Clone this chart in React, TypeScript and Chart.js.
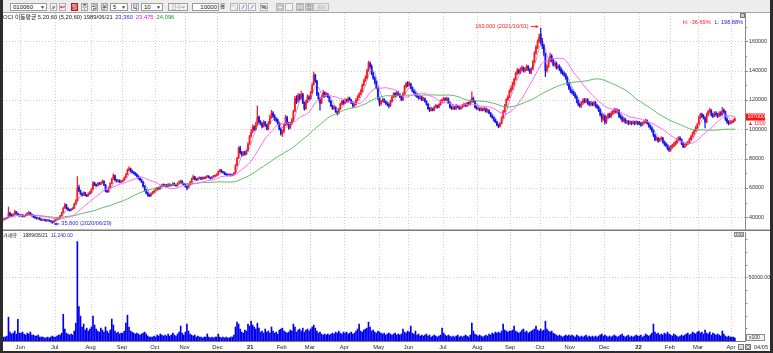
import React, { useEffect, useRef } from "react";
import { Chart, registerables } from "chart.js";

Chart.register(...registerables);

const FONT = '"Liberation Sans", "Noto Sans CJK KR", Arial, sans-serif';

// ---------- calendar (trading days per month) ----------
const monthLabels = ["May", "Jun", "Jul", "Aug", "Sep", "Oct", "Nov", "Dec", "21", "Feb", "Mar", "Apr", "May", "Jun", "Jul", "Aug", "Sep", "Oct", "Nov", "Dec", "22", "Feb", "Mar", "Apr"];
const monthDays = [11, 22, 23, 20, 21, 19, 21, 21, 20, 18, 22, 22, 19, 22, 22, 21, 19, 19, 22, 22, 20, 18, 21, 3];

// ---------- daily prices (thousand KRW) ----------
const opens = [
  38.2, 38.8, 39.2, 39.8, 42.8, 41.8, 41.0, 42.2, 43.8, 42.6, 41.6,
  41.0, 41.6, 40.4, 41.0, 42.2, 42.4, 43.2, 42.0, 41.0, 40.2, 39.6, 39.0, 39.6, 38.6, 38.0, 38.6, 38.0, 37.6, 38.0, 37.6, 37.2, 36.6,
  37.6, 38.6, 39.0, 39.6, 41.2, 43.2, 46.4, 48.6, 46.2, 45.0, 44.6, 45.6, 46.2, 49.2, 51.5, 60.5, 58.2, 56.2, 55.0, 56.8, 55.2, 54.6, 56.0,
  57.2, 59.4, 63.4, 62.0, 61.6, 63.2, 62.4, 63.6, 64.6, 62.0, 58.2, 57.6, 60.2, 63.2, 66.2, 68.4, 65.6, 64.4, 65.2, 64.0,
  64.6, 65.2, 67.2, 69.2, 72.2, 73.2, 71.6, 70.6, 70.0, 69.2, 68.0, 66.6, 65.4, 64.0, 61.2, 58.6, 56.6, 55.2, 54.6, 56.2, 57.2,
  58.2, 59.2, 60.2, 59.6, 61.2, 62.2, 61.6, 62.0, 61.2, 62.6, 61.6, 62.2, 63.0, 62.0, 61.6, 63.2, 64.0, 64.6, 63.0,
  62.0, 61.0, 60.2, 62.2, 64.2, 66.2, 67.6, 66.0, 65.6, 66.6, 67.0, 66.2, 67.0, 66.6, 67.6, 68.0, 67.0, 66.6, 67.6, 68.0, 68.6,
  69.2, 71.2, 72.2, 71.0, 70.6, 69.6, 69.0, 68.6, 69.2, 68.6, 69.2, 70.4, 75.6, 80.6, 87.4, 84.2, 82.6, 84.4, 83.2, 85.4, 90.6,
  95.5, 98.5, 101.5, 100, 103.5, 108.5, 105, 104, 102, 105, 103, 100, 104, 108, 111, 109, 107, 106, 104, 100,
  97, 98.5, 103, 108, 104, 101, 104, 106, 112.5, 121, 119, 123, 121, 124, 118, 114, 119, 122,
  121, 125, 130.5, 137, 133, 124.5, 121, 118, 122, 125, 123, 124, 122, 119, 116, 114, 115, 112, 111, 114, 117, 119,
  118, 120, 119, 121, 120, 118, 116, 117, 120, 122, 124, 126, 130, 133, 135, 140, 145, 143, 138, 135, 132, 128,
  121, 117.5, 119, 120.5, 119, 118, 117, 116, 119, 122, 124.5, 123, 125, 124, 122, 120, 124, 129, 131.5,
  130, 131, 128, 126, 125, 123, 122, 121, 122, 120, 121, 119, 117, 114, 113, 114, 113, 115, 116, 115, 117, 119,
  120, 121, 120, 121, 118, 115, 114, 115, 114, 116, 115, 114, 115, 116, 117, 116, 118, 117, 119, 121, 119, 115,
  114, 114, 113, 114, 113, 114, 112, 113, 111, 109, 108, 106, 105, 103, 102, 104, 108, 112, 116, 120, 122,
  126, 128, 131, 134, 138, 140, 139, 141, 142, 140, 141, 143, 141, 139, 141, 146, 152, 156, 160,
  165, 160, 157, 151, 140, 143, 147, 150, 147, 144, 145, 142, 143, 141, 139, 138, 137, 135, 131,
  128, 126, 125, 124, 122, 119, 117, 116, 118, 120, 119, 120, 118, 117, 118, 117, 118, 116, 115, 113, 110, 107,
  109, 105, 108, 110, 109, 111, 112, 113, 112, 113, 109, 108, 106, 107, 105, 105, 104, 105, 104, 105, 104, 105,
  104.5, 104, 103, 104, 105, 106, 104, 102, 101, 99, 96, 93, 94, 92, 93, 94, 91, 90, 89, 87,
  86, 88, 89, 90, 91, 93, 94, 93, 90, 88, 89, 90, 91, 93, 95, 97, 99, 101,
  104, 108, 110, 109, 108, 105, 110, 112, 113, 110, 109, 111, 110, 109, 111, 110, 113, 112, 107, 105, 104,
  104.5, 105, 106,
];
const highs = [
  39.0, 39.4, 40.0, 47.0, 43.5, 42.2, 42.5, 45.0, 44.0, 42.8, 41.8,
  42.0, 41.8, 41.4, 42.4, 43.0, 44.0, 43.4, 42.2, 41.2, 40.4, 39.8, 39.8, 39.8, 38.8, 38.8, 38.8, 38.2, 38.4, 38.2, 37.8, 37.4, 37.8,
  38.8, 39.4, 40.0, 41.4, 43.6, 47.0, 49.5, 48.8, 46.6, 45.4, 46.0, 46.6, 49.6, 52.0, 67.7, 62.0, 58.6, 56.6, 57.4, 57.0, 55.6, 56.6, 57.8,
  59.6, 64.4, 64.0, 62.6, 63.6, 63.8, 64.0, 65.4, 65.0, 62.4, 58.8, 60.6, 63.6, 66.8, 69.6, 68.8, 66.0, 65.6, 65.6, 65.0,
  65.6, 67.6, 69.8, 73.0, 74.5, 73.6, 72.2, 71.2, 70.6, 69.6, 68.4, 67.0, 65.8, 64.4, 61.6, 59.0, 57.2, 55.8, 56.6, 57.6, 58.6,
  59.6, 60.6, 60.6, 61.6, 62.6, 62.8, 62.6, 62.4, 63.0, 62.8, 62.4, 63.6, 63.4, 62.4, 63.6, 64.8, 65.4, 65.0, 63.4,
  62.4, 61.4, 62.6, 64.6, 66.8, 68.8, 68.0, 66.4, 67.0, 67.6, 67.4, 67.6, 67.4, 68.0, 68.6, 68.4, 67.4, 68.0, 68.6, 69.0, 69.6,
  71.6, 72.8, 72.6, 71.4, 71.0, 70.0, 69.4, 69.6, 69.6, 69.4, 70.6, 76.0, 81.0, 88.0, 88.6, 85.0, 85.0, 85.2, 86.0, 91.0, 96.0,
  100, 103, 102.5, 105, 116, 109, 106, 104.5, 106, 105.5, 103.5, 105.5, 109.5, 113, 112, 110, 108, 107, 104.5, 101,
  99.5, 104, 109.5, 109, 105, 105, 107.5, 113, 122.5, 123, 124.5, 124, 126, 124.5, 118.5, 120, 123.5, 123,
  126, 131.5, 139, 137.5, 133.5, 125, 121.5, 123, 126.5, 125.5, 125, 124.5, 122.5, 119.5, 116.5, 116, 115.5, 112.5, 114.5, 118, 120, 120,
  121, 120.5, 122, 122, 120.5, 118.5, 118, 121, 123, 125, 127, 131, 134, 136.5, 141, 146.5, 146, 144, 139, 136, 133, 129,
  122, 120, 121, 121, 119.5, 118.5, 117.5, 120, 123, 125, 125, 126, 126, 124.5, 122.5, 125, 130, 132, 132.5,
  132.5, 131.5, 129, 127, 125.5, 124, 122.5, 123, 122.5, 122, 121.5, 119.5, 117.5, 115, 115, 114.5, 116, 117, 116.5, 117.5, 120, 121,
  122, 121.5, 122, 121.5, 118.5, 116, 116, 115.5, 117, 116.5, 115.5, 116, 117, 118, 117.5, 118.5, 118.5, 120, 125.5, 122, 119.5, 116,
  115, 114.5, 115, 114.5, 115, 114.5, 114, 113.5, 111.5, 110, 108.5, 107, 105.5, 103.5, 104.5, 108.5, 113, 117, 121, 123, 127,
  129.5, 132, 135, 139, 141.5, 141, 142, 143.5, 142.5, 142, 144, 143.5, 141.5, 142, 147, 153, 157, 161, 165,
  169, 162, 158, 152, 144, 148, 152, 151, 148, 146, 146, 144, 144, 142, 140, 139, 138, 136, 132,
  129, 127, 126, 125, 123, 120, 118, 119, 121, 121, 121, 121, 119, 119, 118.5, 119, 119, 117, 116, 114, 111, 110,
  110, 109, 111, 111, 112, 113, 114.5, 114, 114, 113.5, 110, 109, 108, 107.5, 106, 106, 106, 105.5, 106, 105.5, 106, 105.5,
  105.5, 105, 105, 106, 107, 106.5, 104.5, 103, 101.5, 99.5, 96.5, 95, 94.5, 94, 95, 94.5, 92, 91, 89.5, 88,
  89, 90, 91, 92, 94, 95, 95, 93.5, 90.5, 90, 91, 92, 94, 96, 98, 100, 102, 104,
  109, 111, 111, 110, 108.5, 111, 113, 114.5, 113.5, 111, 112, 112, 111, 112, 112, 115, 114, 112.5, 108, 106, 106,
  106, 107, 108,
];
const lows = [
  38.0, 38.5, 39.0, 39.6, 41.0, 40.6, 40.8, 41.8, 42.2, 41.2, 40.6,
  40.8, 40.2, 40.2, 40.8, 42.0, 42.2, 41.8, 40.8, 39.8, 39.2, 38.8, 38.8, 38.2, 37.8, 37.8, 37.8, 37.2, 37.4, 37.2, 36.6, 35.8, 36.4,
  37.4, 38.4, 38.8, 39.4, 41.0, 43.0, 46.0, 45.6, 44.6, 44.2, 44.4, 45.2, 46.0, 48.8, 51.0, 57.4, 55.6, 54.4, 54.8, 54.6, 54.0, 54.4, 55.6,
  56.8, 59.0, 61.6, 61.0, 61.2, 62.0, 62.0, 63.2, 61.6, 57.4, 56.8, 57.2, 60.0, 62.8, 65.8, 65.0, 64.0, 64.0, 63.6, 63.6,
  64.2, 65.0, 66.8, 69.0, 71.8, 71.0, 70.0, 69.6, 68.6, 67.6, 66.0, 65.0, 63.6, 60.6, 58.0, 56.0, 54.4, 54.0, 54.2, 55.8, 56.8,
  57.8, 58.8, 59.0, 59.2, 60.8, 61.0, 61.2, 60.6, 61.0, 61.2, 61.2, 61.8, 61.6, 61.0, 61.2, 62.8, 63.6, 62.6, 61.6,
  60.6, 58.6, 59.8, 61.8, 63.8, 65.8, 65.6, 65.0, 65.2, 66.2, 65.6, 65.8, 66.2, 66.2, 67.2, 66.6, 66.0, 66.2, 67.2, 67.6, 68.2,
  68.8, 70.8, 70.6, 70.0, 69.0, 68.6, 68.0, 68.2, 68.0, 68.2, 68.8, 70.0, 75.0, 80.0, 83.2, 81.6, 82.0, 82.4, 82.6, 85.0, 89.6,
  94.5, 97.5, 99, 99.5, 102.5, 104, 103, 101, 101.5, 102, 99.5, 99.5, 103.5, 107.5, 108, 106, 105, 103, 99.5, 96,
  95, 97.5, 102.5, 103, 100, 100.5, 103, 105.5, 112, 117.5, 118.5, 120, 120.5, 117.5, 113, 113.5, 118, 120,
  120.5, 124.5, 130, 132, 123, 120, 113, 117.5, 121.5, 122, 122.5, 121.5, 118.5, 115.5, 113.5, 113.5, 111.5, 109.8, 110.5, 113.5, 116.5, 117,
  117.5, 118.5, 118.5, 119.5, 117.5, 115, 115.5, 116.5, 119.5, 121.5, 123.5, 125.5, 129.5, 132.5, 134.5, 139.5, 141.5, 137, 134, 131, 127.5, 120,
  116, 116.5, 118.5, 118, 117, 116, 114.5, 115.5, 118.5, 121.5, 122, 122.5, 123, 121.5, 119.5, 119.5, 123.5, 128, 129,
  129.5, 127.5, 125.5, 124.5, 122.5, 121.5, 120.5, 120.5, 119.5, 119.5, 118.5, 116.5, 113.5, 112, 112.5, 112.5, 112.5, 114.5, 114.5, 114.5, 116.5, 118.5,
  119.5, 119.5, 119.5, 117.5, 114.5, 113.5, 113.5, 113.5, 113.5, 114.5, 113.5, 113.5, 114.5, 115.5, 115.5, 115.5, 116.5, 116.5, 118.5, 118.5, 114.5, 113.5,
  113, 112.5, 112.5, 112.5, 112.5, 111.5, 111.5, 110.5, 108.5, 107.5, 105.5, 104.5, 102.5, 101, 101.5, 103.5, 107.5, 111.5, 115.5, 119.5, 121.5,
  125, 127, 130, 133.5, 137, 138, 138, 140, 139, 139, 140, 140, 138, 138, 140.5, 145.5, 151, 155, 159,
  158, 155, 150, 136, 139, 142, 146, 146, 143, 143, 141, 141, 140, 138, 137, 136, 134, 130, 127,
  125, 124, 123, 121, 118, 116, 115, 115, 117, 118, 118, 117, 116, 116, 116, 116, 115, 114, 112, 109, 105, 106,
  103.5, 104, 107, 108, 108, 110, 111, 111, 111, 108, 107, 105, 105, 104, 104, 103, 103.5, 103, 103.5, 103, 103.5, 103,
  103, 102, 102.5, 103.5, 104.5, 103.5, 101.5, 100, 98, 95, 92, 92.5, 91, 91.5, 92.5, 90.5, 89, 88, 86, 84.7,
  85, 87, 88, 89, 90, 92, 92.5, 89.5, 87.5, 87.5, 88.5, 89.5, 90.5, 92.5, 94.5, 96.5, 98.5, 100.5,
  103, 107, 108, 107, 101, 104.5, 109.5, 111, 109, 108, 108.5, 109, 108, 108.5, 109, 109.5, 111, 106, 104, 103, 103.5,
  104, 104.5, 105.5,
];
const closes = [
  38.6, 39.0, 39.5, 42.5, 41.5, 41.0, 42.0, 43.5, 42.5, 41.5, 41.0,
  41.5, 40.5, 41.0, 42.0, 42.5, 43.0, 42.0, 41.0, 40.0, 39.5, 39.0, 39.5, 38.5, 38.0, 38.5, 38.0, 37.5, 38.0, 37.5, 37.0, 36.5, 37.5,
  38.5, 39.0, 39.5, 41.0, 43.0, 46.0, 48.5, 46.0, 45.0, 44.5, 45.5, 46.0, 49.0, 51.0, 60.0, 58.0, 56.0, 55.0, 56.5, 55.0, 54.5, 56.0, 57.0,
  59.0, 63.5, 62.0, 61.5, 63.0, 62.5, 63.5, 64.5, 62.0, 58.0, 57.5, 60.0, 63.0, 66.0, 68.5, 65.5, 64.5, 65.0, 64.0, 64.5,
  65.0, 67.0, 69.0, 72.0, 73.0, 71.5, 70.5, 70.0, 69.0, 68.0, 66.5, 65.5, 64.0, 61.0, 58.5, 56.5, 55.0, 54.5, 56.0, 57.0, 58.0,
  59.0, 60.0, 59.5, 61.0, 62.0, 61.5, 62.0, 61.0, 62.5, 61.5, 62.0, 63.0, 62.0, 61.5, 63.0, 64.0, 64.5, 63.0, 62.0,
  61.0, 60.0, 62.0, 64.0, 66.0, 67.5, 66.0, 65.5, 66.5, 67.0, 66.0, 67.0, 66.5, 67.5, 68.0, 67.0, 66.5, 67.5, 68.0, 68.5, 69.0,
  71.0, 72.0, 71.0, 70.5, 69.5, 69.0, 68.5, 69.0, 68.5, 69.0, 70.0, 75.0, 80.0, 87.0, 84.0, 82.5, 84.0, 83.0, 85.0, 90.0, 95.0,
  98, 101, 100, 103, 108, 105, 104, 102, 105, 103, 100, 104, 108, 111, 109, 107, 106, 104, 100, 97,
  98, 103, 108, 104, 101, 104, 106, 112, 121, 119, 123, 121, 124, 118, 114, 119, 122, 121,
  125, 130, 137, 133, 124, 121, 118, 122, 125, 123, 124, 122, 119, 116, 114, 115, 112, 111, 114, 117, 119, 118,
  120, 119, 121, 120, 118, 116, 117, 120, 122, 124, 126, 130, 133, 135, 140, 145, 143, 138, 135, 132, 128, 122,
  118, 119, 120, 119, 118, 117, 116, 119, 122, 124, 123, 125, 124, 122, 120, 124, 129, 131, 130,
  131, 128, 126, 125, 123, 122, 121, 122, 120, 121, 119, 117, 114, 113, 114, 113, 115, 116, 115, 117, 119, 120,
  121, 120, 121, 118, 115, 114, 115, 114, 116, 115, 114, 115, 116, 117, 116, 118, 117, 119, 121, 119, 115, 114,
  114, 113, 114, 113, 114, 112, 113, 111, 109, 108, 106, 105, 103, 102, 104, 108, 112, 116, 120, 122, 126,
  128, 131, 134, 138, 140, 139, 141, 142, 140, 141, 143, 141, 139, 141, 146, 152, 156, 160, 163,
  160, 157, 152, 140, 143, 147, 150, 147, 144, 145, 142, 143, 141, 139, 138, 137, 135, 131, 128,
  126, 125, 124, 122, 119, 117, 116, 118, 120, 119, 120, 118, 117, 118, 117, 118, 116, 115, 113, 110, 107, 109,
  105, 108, 110, 109, 111, 112, 113, 112, 113, 109, 108, 106, 107, 105, 105, 104, 105, 104, 105, 104, 105, 104,
  104, 103, 104, 105, 106, 104, 102, 101, 99, 96, 93, 94, 92, 93, 94, 91, 90, 89, 87, 86,
  88, 89, 90, 91, 93, 94, 93, 90, 88, 89, 90, 91, 93, 95, 97, 99, 101, 103,
  108, 110, 109, 108, 105, 110, 112, 113, 110, 109, 111, 110, 109, 111, 110, 113, 112, 107, 105, 104, 105,
  105, 106, 107,
];

// ---------- daily volume (x100 shares) ----------
const volumes = [
  3100, 3200, 3900, 18700, 7000, 5500, 6200, 7800, 5500, 17000, 6200,
  6200, 7000, 5500, 4700, 6200, 5500, 7000, 4700, 4700, 3900, 3900, 4700, 3100, 3100, 3100, 2400, 2400, 3100, 2400, 3100, 3900, 3100,
  3100, 3900, 4700, 4700, 6200, 21000, 9400, 6200, 5500, 4700, 5500, 4700, 7800, 14000, 78000, 27000, 19500, 11000, 13300, 8600, 10100, 7800, 9400,
  11000, 19500, 12500, 9400, 7800, 7000, 10100, 8600, 7000, 11000, 7800, 6200, 8600, 17200, 12500, 7800, 6200, 7000, 5500, 6200,
  6200, 7800, 14000, 20300, 11000, 7800, 7000, 6200, 5500, 6200, 5500, 4700, 5500, 6200, 7000, 5500, 3900, 3100, 3100, 3100, 3900,
  3100, 4700, 3900, 5500, 4700, 3900, 4700, 3900, 5500, 3900, 4700, 6200, 4700, 3900, 5500, 7000, 11700, 6200, 4700,
  7000, 13300, 7800, 5500, 4700, 3900, 4700, 3100, 3900, 3100, 3100, 2400, 3100, 3100, 5500, 3100, 2400, 3100, 2400, 3100, 3100,
  5500, 3100, 2400, 3100, 2400, 3100, 2400, 2400, 3100, 3100, 4700, 11000, 14800, 13300, 9400, 7000, 6200, 8600, 7800, 13300, 11700,
  15600, 12500, 11000, 9400, 14000, 10100, 7000, 7800, 6200, 9400, 7000, 7800, 6200, 11000, 7800, 6200, 7000, 5500, 8600, 9400,
  10100, 7800, 7000, 6200, 7000, 8600, 7800, 13300, 11000, 7000, 8600, 9400, 7800, 10100, 7000, 8600, 9400, 7800,
  9400, 11000, 12500, 10100, 7800, 6200, 7000, 5500, 4700, 5500, 4700, 5500, 4700, 5500, 6200, 5500, 7000, 6200, 7800, 6200, 5500, 7000,
  6200, 7000, 5500, 6200, 7000, 5500, 6200, 7800, 9400, 13300, 7800, 7000, 8600, 9400, 10100, 14800, 11000, 7800, 8600, 7000, 6200, 7800,
  7000, 6200, 5500, 6200, 4700, 5500, 6200, 5500, 4700, 5500, 6200, 4700, 5500, 4700, 5500, 9400, 7000, 6200, 7800,
  7000, 11700, 6200, 5500, 7800, 4700, 5500, 3900, 4700, 3900, 4700, 5500, 3900, 4700, 3100, 3900, 4700, 3900, 3100, 3900, 4700, 10100,
  6200, 4700, 3900, 4700, 3900, 3100, 3900, 3100, 3900, 4700, 3100, 3900, 3100, 3900, 4700, 3900, 3100, 4700, 14000, 7800, 5500, 4700,
  3900, 4700, 3900, 3100, 3900, 4700, 3900, 5500, 4700, 6200, 5500, 7000, 6200, 7000, 6200, 7800, 13300, 8600, 7800, 7000, 7800,
  7800, 8600, 11700, 7800, 7000, 6200, 7000, 8600, 9400, 7000, 7800, 6200, 7000, 7800, 8600, 9400, 11700, 8600, 7800,
  9400, 7800, 8600, 15600, 9400, 7800, 7000, 7800, 6200, 5500, 4700, 3900, 4700, 3900, 3100, 3900, 4700, 3900, 4700,
  3900, 4700, 3900, 3100, 4700, 3900, 3100, 3900, 3100, 3900, 4700, 3100, 3900, 3100, 3900, 3100, 3900, 3100, 3900, 4700, 5500, 3900,
  4700, 3900, 3100, 3900, 3100, 3900, 4700, 3900, 3100, 3900, 4700, 5500, 3900, 3100, 3900, 4700, 3100, 3900, 3100, 3900, 4700, 3900,
  3900, 4700, 3100, 3900, 5500, 4700, 3900, 4700, 6200, 13300, 7000, 5500, 6200, 4700, 5500, 4700, 6200, 5500, 7000, 5500,
  4700, 3900, 5500, 4700, 3900, 3100, 3900, 4700, 3900, 4700, 5500, 6200, 4700, 5500, 7000, 6200, 5500, 7000,
  7800, 6200, 7000, 5500, 8600, 6200, 5500, 7000, 4700, 6200, 5500, 4700, 5500, 4700, 3900, 7800, 5500, 3900, 3100, 3900, 3100,
  3100, 3100, 2400,
];

// ---------- texts ----------
const stockName = "OCI";
const maTitle = "이동평균 5,20,60 (5,20,60)";
const cursorDate = "1989/06/21";
const maCursorValues = ["23,360", "23,475", "24,096"];
const volumeTitle = "거래량";
const volumeCursorValue = "11,240.00";
const peakDate = "2021/10/01";
const troughDate = "2020/06/29";
const priceTicks = [40, 60, 80, 100, 120, 140, 160];
const volumeTickLabels = [50000];
const currentDateLabel = "04/05";

// ---------- styles ----------
const UP = "#ff1a1a";
const DOWN = "#1414f0";
const MA_COLORS = ["rgba(90,90,220,0.55)", "#ff66ff", "#5cb85c"];
const LEGEND_COLORS = ["#2828d8", "#ff00ff", "#1a9a1a"];
const GRID = "#cdcdcd";

const N = Math.min(opens.length, highs.length, lows.length, closes.length);
const SLOTS = N + 6;
const slotLabels = Array.from({ length: SLOTS }, (_, i) => String(i));
const monthStarts: number[] = [];
{
  let acc = 0;
  for (const d of monthDays) { monthStarts.push(acc); acc += d; }
}

function movingAverage(src: number[], n: number) {
  return src.map((_, i) => {
    const s = Math.max(0, i - n + 1);
    let sum = 0;
    for (let k = s; k <= i; k++) sum += src[k];
    return sum / (i - s + 1);
  });
}

function txt(ctx: CanvasRenderingContext2D, s: string, x: number, y: number, color: string, size = 6, align: CanvasTextAlign = "left", bold = false) {
  ctx.font = `${bold ? "bold " : ""}${size}px ${FONT}`;
  ctx.fillStyle = color;
  ctx.textAlign = align;
  ctx.textBaseline = "middle";
  ctx.fillText(s, x, y);
  return ctx.measureText(s).width;
}
function seg(ctx: CanvasRenderingContext2D, x1: number, y1: number, x2: number, y2: number) {
  ctx.beginPath();
  ctx.moveTo(x1, y1);
  ctx.lineTo(x2, y2);
  ctx.stroke();
}
function boundaryPx(xs: any, idx: number) {
  const w = xs.getPixelForValue(1) - xs.getPixelForValue(0);
  return xs.getPixelForValue(idx) - w / 2;
}
function drawMonthGrid(chart: any) {
  const { ctx, chartArea: a } = chart;
  const xs = chart.scales.x;
  ctx.save();
  ctx.strokeStyle = GRID;
  ctx.lineWidth = 1;
  ctx.setLineDash([1, 2]);
  for (let m = 1; m < monthStarts.length; m++) {
    const px = Math.round(boundaryPx(xs, monthStarts[m])) + 0.5;
    seg(ctx, px, a.top, px, a.bottom);
  }
  ctx.restore();
}

function makePriceChart(canvas: HTMLCanvasElement) {
  const o = opens.slice(0, N), h = highs.slice(0, N), l = lows.slice(0, N), c = closes.slice(0, N);
  const wick = c.map((v, i) => [Math.min(l[i], o[i], v), Math.max(h[i], o[i], v)]);
  const body = c.map((v, i) => [Math.min(o[i], v), Math.max(o[i], v)]);
  const colors = c.map((v, i) => (v >= o[i] ? UP : DOWN));
  const ma = [5, 20, 60].map((n) => movingAverage(c, n));

  let maxI = 0, minI = 0;
  for (let i = 0; i < N; i++) {
    if (h[i] > h[maxI]) maxI = i;
    if (l[i] < l[minI]) minI = i;
  }
  const last = c[N - 1], prev = c[N - 2];

  const deco = {
    id: "priceDeco",
    beforeDatasetsDraw(chart: any) {
      const { ctx, chartArea: a } = chart;
      const ys = chart.scales.y;
      ctx.save();
      ctx.strokeStyle = GRID;
      ctx.lineWidth = 1;
      ctx.setLineDash([1, 2]);
      for (const v of priceTicks) {
        const py = Math.round(ys.getPixelForValue(v)) + 0.5;
        seg(ctx, a.left, py, a.right, py);
      }
      ctx.restore();
      drawMonthGrid(chart);
    },
    afterDraw(chart: any) {
      const { ctx, chartArea: a } = chart;
      const xs = chart.scales.x, ys = chart.scales.y;
      ctx.save();
      ctx.strokeStyle = "#8c8c8c";
      ctx.lineWidth = 1;
      seg(ctx, a.right + 0.5, 0, a.right + 0.5, a.bottom);
      ctx.strokeStyle = "#7a7a7a";
      ctx.lineWidth = 1.5;
      seg(ctx, 0, a.bottom - 0.75, chart.width, a.bottom - 0.75);
      ctx.lineWidth = 1;
      ctx.strokeStyle = "#8c8c8c";
      for (let v = 40; v <= 170; v += 10) {
        const py = Math.round(ys.getPixelForValue(v)) + 0.5;
        seg(ctx, a.right, py, a.right + (v % 20 === 0 ? 3 : 2), py);
      }
      for (const v of priceTicks) txt(ctx, String(v * 1000), a.right + 4, ys.getPixelForValue(v), "#333", 5.4);

      // current price marker
      const cy = ys.getPixelForValue(last) - 2;
      ctx.fillStyle = "#ff1010";
      ctx.fillRect(a.right + 1, cy - 3.5, 19, 7);
      txt(ctx, String(Math.round(last * 1000)), a.right + 2.5, cy, "#fff", 5.2);
      const diff = Math.round((last - prev) * 1000);
      txt(ctx, (diff >= 0 ? "▲ " : "▼ ") + Math.abs(diff), a.right + 3, cy + 7, diff >= 0 ? "#ff1010" : "#1010ff", 5);

      // legend
      let lx = 0;
      lx += txt(ctx, `${stockName} ${maTitle} ${cursorDate}`, lx, 4, "#222", 5.8) + 2.5;
      maCursorValues.forEach((s, k) => { lx += txt(ctx, s, lx, 4, LEGEND_COLORS[k], 5.8) + 3; });

      // H / L
      const hp = ((last / h[maxI] - 1) * 100).toFixed(2);
      const lp = ((last / l[minI] - 1) * 100).toFixed(2);
      const lw = txt(ctx, `L: ${lp}%`, a.right - 2, 9.5, "#2020e0", 5.6, "right");
      txt(ctx, `H: ${hp}%`, a.right - 2 - lw - 4, 9.5, "#ff2020", 5.6, "right");
      ctx.fillStyle = "#c8c8c8";
      ctx.fillRect(a.right - 5, 0, 4, 4);
      ctx.strokeStyle = "#777";
      ctx.strokeRect(a.right - 4.5, 0.5, 4, 4);

      // peak annotation
      const px = xs.getPixelForValue(maxI), py = ys.getPixelForValue(h[maxI]) - 1.5;
      ctx.strokeStyle = "#ff2020";
      ctx.fillStyle = "#ff2020";
      seg(ctx, px - 10, py, px - 3, py);
      ctx.beginPath(); ctx.moveTo(px - 2, py); ctx.lineTo(px - 5, py - 1.5); ctx.lineTo(px - 5, py + 1.5); ctx.fill();
      txt(ctx, `${Math.round(h[maxI] * 1000).toLocaleString("en-US")} (${peakDate})`, px - 12, py, "#ff2020", 5.6, "right");

      // trough annotation
      const tx = xs.getPixelForValue(minI), ty = ys.getPixelForValue(l[minI]) + 0.5;
      ctx.strokeStyle = "#2a2ad0";
      ctx.fillStyle = "#2a2ad0";
      seg(ctx, tx + 2, ty, tx + 7, ty);
      ctx.beginPath(); ctx.moveTo(tx + 1.5, ty); ctx.lineTo(tx + 4.5, ty - 1.5); ctx.lineTo(tx + 4.5, ty + 1.5); ctx.fill();
      txt(ctx, `${Math.round(l[minI] * 1000).toLocaleString("en-US")} (${troughDate})`, tx + 9, ty, "#2a2ad0", 5.6);
      ctx.restore();
    },
  };

  return new Chart(canvas, {
    type: "bar",
    data: {
      labels: slotLabels,
      datasets: [
        { type: "line", data: ma[0], borderColor: MA_COLORS[0], borderWidth: 1, pointRadius: 0, order: 0 } as any,
        { type: "line", data: ma[1], borderColor: MA_COLORS[1], borderWidth: 1, pointRadius: 0, order: 0 } as any,
        { type: "line", data: ma[2], borderColor: MA_COLORS[2], borderWidth: 1, pointRadius: 0, order: 0 } as any,
        { type: "bar", data: wick, backgroundColor: colors, barThickness: 0.6, grouped: false, order: 2 } as any,
        { type: "bar", data: body, backgroundColor: colors, barThickness: 1.1, grouped: false, minBarLength: 1, order: 1 } as any,
      ],
    },
    options: {
      responsive: false,
      animation: false,
      devicePixelRatio: 1,
      events: [],
      layout: { padding: { right: 25, left: 0, top: 0, bottom: 0 } },
      plugins: { legend: { display: false }, tooltip: { enabled: false } },
      scales: {
        x: { display: false, offset: true },
        y: { display: false, min: 30.65, max: 179.3 },
      },
    } as any,
    plugins: [deco],
  });
}

function makeVolumeChart(canvas: HTMLCanvasElement) {
  const v = volumes.slice(0, N);
  const deco = {
    id: "volDeco",
    beforeDatasetsDraw(chart: any) {
      const { ctx, chartArea: a } = chart;
      const ys = chart.scales.y;
      ctx.save();
      ctx.strokeStyle = GRID;
      ctx.setLineDash([1, 2]);
      for (const t of volumeTickLabels) {
        const py = Math.round(ys.getPixelForValue(t)) + 0.5;
        seg(ctx, a.left, py, a.right, py);
      }
      ctx.restore();
      drawMonthGrid(chart);
    },
    afterDraw(chart: any) {
      const { ctx, chartArea: a } = chart;
      const xs = chart.scales.x, ys = chart.scales.y;
      ctx.save();
      ctx.strokeStyle = "#8c8c8c";
      ctx.lineWidth = 1;
      seg(ctx, a.right + 0.5, 0, a.right + 0.5, a.bottom + 1);
      ctx.strokeStyle = "#7a7a7a";
      seg(ctx, 0, a.bottom + 0.5, a.right, a.bottom + 0.5);
      ctx.strokeStyle = "#8c8c8c";
      for (let t = 10000; t <= 80000; t += 10000) {
        const py = Math.round(ys.getPixelForValue(t)) + 0.5;
        seg(ctx, a.right, py, a.right + 2.5, py);
      }
      for (const t of volumeTickLabels) txt(ctx, t.toFixed(2), a.right + 3.5, ys.getPixelForValue(t), "#333", 5.2);

      // unit box
      ctx.fillStyle = "#f2f2f2";
      ctx.fillRect(a.right + 1, a.bottom - 7, 19, 7);
      ctx.strokeStyle = "#888";
      ctx.strokeRect(a.right + 1.5, a.bottom - 6.5, 18, 6);
      txt(ctx, "x100", a.right + 4, a.bottom - 3.5, "#333", 5);

      // top right mini box
      ctx.fillStyle = "#d8d8d8";
      ctx.fillRect(a.right - 11, 0, 10, 5);
      ctx.strokeStyle = "#888";
      ctx.strokeRect(a.right - 10.5, 0.5, 9, 4);
      txt(ctx, "1:00", a.right - 6, 2.7, "#444", 3.6, "center");

      // x labels
      for (let m = 1; m < monthStarts.length; m++) {
        const px = boundaryPx(xs, monthStarts[m]);
        const lab = monthLabels[m];
        txt(ctx, lab, px, a.bottom + 6.5, "#222", 5.8, "center", /^\d+$/.test(lab));
      }

      // bottom-right controls
      ctx.fillStyle = "#e6e6e6";
      ctx.strokeStyle = "#777";
      ctx.fillRect(a.right - 7, a.bottom + 3, 6, 6);
      ctx.strokeRect(a.right - 6.5, a.bottom + 3.5, 5, 5);
      ctx.fillRect(a.right, a.bottom + 3, 6, 6);
      ctx.strokeRect(a.right + 0.5, a.bottom + 3.5, 5, 5);
      txt(ctx, "↓", a.right - 4, a.bottom + 6.3, "#333", 5, "center");
      txt(ctx, "Q", a.right + 3, a.bottom + 6.3, "#333", 4.5, "center");
      txt(ctx, currentDateLabel, a.right + 9, a.bottom + 6.5, "#333", 5.6);

      // legend
      let lx = 0;
      lx += txt(ctx, volumeTitle, lx, 4, "#222", 5) + 6;
      lx += txt(ctx, cursorDate, lx, 4, "#222", 5) + 3;
      txt(ctx, volumeCursorValue, lx, 4, "#2828d8", 5);
      ctx.restore();
    },
  };
  return new Chart(canvas, {
    type: "bar",
    data: {
      labels: slotLabels,
      datasets: [{ data: v, backgroundColor: "#0000f0", barThickness: 1, grouped: false } as any],
    },
    options: {
      responsive: false,
      animation: false,
      devicePixelRatio: 1,
      events: [],
      layout: { padding: { right: 25, left: 0, top: 0, bottom: 10 } },
      plugins: { legend: { display: false }, tooltip: { enabled: false } },
      scales: {
        x: { display: false, offset: true },
        y: { display: false, min: 0, max: 85500 },
      },
    } as any,
    plugins: [deco],
  });
}

// ---------- toolbar pieces ----------
const base: React.CSSProperties = {
  position: "absolute", top: 3, height: 8, boxSizing: "border-box", fontFamily: FONT,
  fontSize: 6, lineHeight: "6px", whiteSpace: "nowrap", overflow: "hidden",
};
function Combo({ left, width, text, dim }: { left: number; width: number; text: string; dim?: boolean }) {
  return (
    <div style={{ ...base, left, width, background: dim ? "#f3f3f3" : "#fff", border: "1px solid #9c9c9c", color: dim ? "#a8a8a8" : "#111", paddingLeft: 2 }}>
      {text}
      <span style={{ position: "absolute", right: 1, top: 0, fontSize: 5, color: dim ? "#aaa" : "#444" }}>▼</span>
    </div>
  );
}
function Btn({ left, text, red, width = 7 }: { left: number; text: string; red?: boolean; width?: number }) {
  return (
    <div style={{ ...base, left, width, textAlign: "center", background: red ? "#e23a32" : "#f7f7f7", color: red ? "#fff" : "#222", border: `1px solid ${red ? "#b02020" : "#a8a8a8"}`, fontSize: 5.5 }}>
      {text}
    </div>
  );
}
function Icon({ left, glyph, color, width = 8 }: { left: number; glyph: string; color: string; width?: number }) {
  return (
    <div style={{ ...base, left, width, textAlign: "center", background: "#f4f4f4", border: "1px solid #b4b4b4", color, fontSize: 6, fontWeight: "bold" }}>
      {glyph}
    </div>
  );
}

export default function App() {
  const priceRef = useRef<HTMLCanvasElement>(null);
  const volRef = useRef<HTMLCanvasElement>(null);
  useEffect(() => {
    document.body.style.margin = "0";
    const c1 = makePriceChart(priceRef.current!);
    const c2 = makeVolumeChart(volRef.current!);
    return () => { c1.destroy(); c2.destroy(); };
  }, []);

  return (
    <div style={{ position: "relative", width: 773, height: 353, background: "#2c2c2c", overflow: "hidden" }}>
      <div style={{ position: "absolute", left: 3, top: 0, width: 767, height: 12, background: "#ededed", borderBottom: "1px solid #a6a6a6" }} />
      <div style={{ position: "absolute", left: 3, top: 13, width: 767, height: 338, background: "#fff" }} />
      <Combo left={10} width={37} text="010060" />
      <Icon left={50} glyph="⌕" color="#333" width={7} />
      <Icon left={59} glyph="↩" color="#d02020" width={7} />
      <Btn left={71} text="일" red />
      <Btn left={81} text="주" />
      <Btn left={91} text="월" />
      <Btn left={101} text="분" />
      <Combo left={110} width={18} text="5" />
      <Btn left={131} text="틱" width={8} />
      <Combo left={141} width={22} text="10" />
      <Combo left={168} width={20} text="건수" dim />
      <div style={{ ...base, left: 192, width: 27, background: "#fff", border: "1px solid #9c9c9c", textAlign: "right", paddingRight: 1, color: "#111" }}>10000</div>
      <div style={{ ...base, left: 220, width: 8, border: "none", color: "#222", fontSize: 5.5 }}>봉</div>
      <Icon left={230} glyph="〽" color="#e02020" />
      <Icon left={239} glyph="⁄" color="#2030e0" />
      <Icon left={248} glyph="⁄" color="#2030e0" />
      <Icon left={260} glyph="%" color="#333" />
      <Icon left={276} glyph="▤" color="#555" />
      <Icon left={285} glyph="" color="#555" />
      <Icon left={296} glyph="▥" color="#555" />
      <Icon left={305} glyph="▦" color="#555" />
      <div style={{ ...base, left: 313, width: 16, background: "#e8e8e8", border: "1px solid #c0c0c0", color: "#b0b0b0", fontSize: 5, textAlign: "center" }}>계좌</div>
      <canvas ref={priceRef} width={767} height={218} style={{ position: "absolute", left: 3, top: 13, width: 767, height: 218 }} />
      <canvas ref={volRef} width={767} height={119} style={{ position: "absolute", left: 3, top: 232, width: 767, height: 119 }} />
    </div>
  );
}
